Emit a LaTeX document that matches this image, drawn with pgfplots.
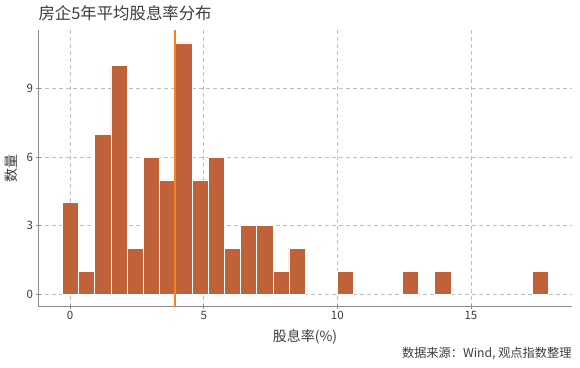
\documentclass[border=0pt]{standalone}
\usepackage{fontspec}
\setmainfont{Noto Sans CJK SC}
\usepackage{pgfplots}
\pgfplotsset{compat=1.18}
\definecolor{barc}{RGB}{191,98,57}
\definecolor{meanc}{RGB}{245,130,32}
\definecolor{gridc}{RGB}{190,190,190}
\definecolor{spinec}{RGB}{140,140,140}
\definecolor{txtc}{RGB}{60,60,60}
\begin{document}
\begin{tikzpicture}
\path[use as bounding box] (0pt,0pt) rectangle (580pt,367pt);
\begin{axis}[
  at={(38pt,60.4pt)}, anchor=south west,
  scale only axis, width=534pt, height=276.3pt,
  xmin=-1.2, xmax=18.78, ymin=-0.55, ymax=11.55,
  axis x line*=bottom, axis y line*=left,
  axis line style={spinec, line width=0.9pt, -},
  xtick={0,5,10,15}, ytick={0,3,6,9},
  tick align=center, major tick length=5pt,
  tick style={spinec, line width=0.6pt},
  grid=major,
  major grid style={gridc, dashed, dash pattern=on 4pt off 3pt, line width=0.6pt},
  /pgf/number format/assume math mode=true,
  ticklabel style={font=\fontsize{11.5}{13}\selectfont, text=txtc},
  xticklabel style={yshift=1pt},
  yticklabel style={xshift=1pt},
  xlabel={股息率(\%)}, ylabel={数量},
  xlabel style={font=\fontsize{14}{16}\selectfont, text=txtc, at={(axis description cs:0.5,0)}, anchor=center, yshift=-30.4pt},
  ylabel style={font=\fontsize{14}{16}\selectfont, text=txtc, at={(axis description cs:0,0.5)}, anchor=center, yshift=27pt},
  clip=false,
]
\addplot[ybar interval, fill=barc, draw=white, line width=0.5pt] coordinates {
(-0.288,4) (0.318,1) (0.923,7) (1.529,10) (2.134,2) (2.740,6) (3.346,5) (3.951,11)
(4.557,5) (5.162,6) (5.768,2) (6.374,3) (6.979,3) (7.585,1) (8.190,2) (8.796,0)};
\addplot[ybar interval, fill=barc, draw=white, line width=0.5pt] coordinates {(10.007,1) (10.613,0)};
\addplot[ybar interval, fill=barc, draw=white, line width=0.5pt] coordinates {(12.430,1) (13.035,0)};
\addplot[ybar interval, fill=barc, draw=white, line width=0.5pt] coordinates {(13.641,1) (14.246,0)};
\addplot[ybar interval, fill=barc, draw=white, line width=0.5pt] coordinates {(17.274,1) (17.880,0)};
\addplot[fill=meanc, draw=none, mark=none, forget plot] coordinates {(3.904,-0.55) (3.962,-0.55) (3.962,11.55) (3.904,11.55)} -- cycle;
\end{axis}
\node[anchor=west, font=\fontsize{16.4}{18}\selectfont, text=txtc] at (35pt,354pt) {房企5年平均股息率分布};
\node[anchor=east, font=\fontsize{12.2}{14}\selectfont, text=txtc] at (575pt,13pt) {数据来源：Wind, 观点指数整理};
\end{tikzpicture}
\end{document}
